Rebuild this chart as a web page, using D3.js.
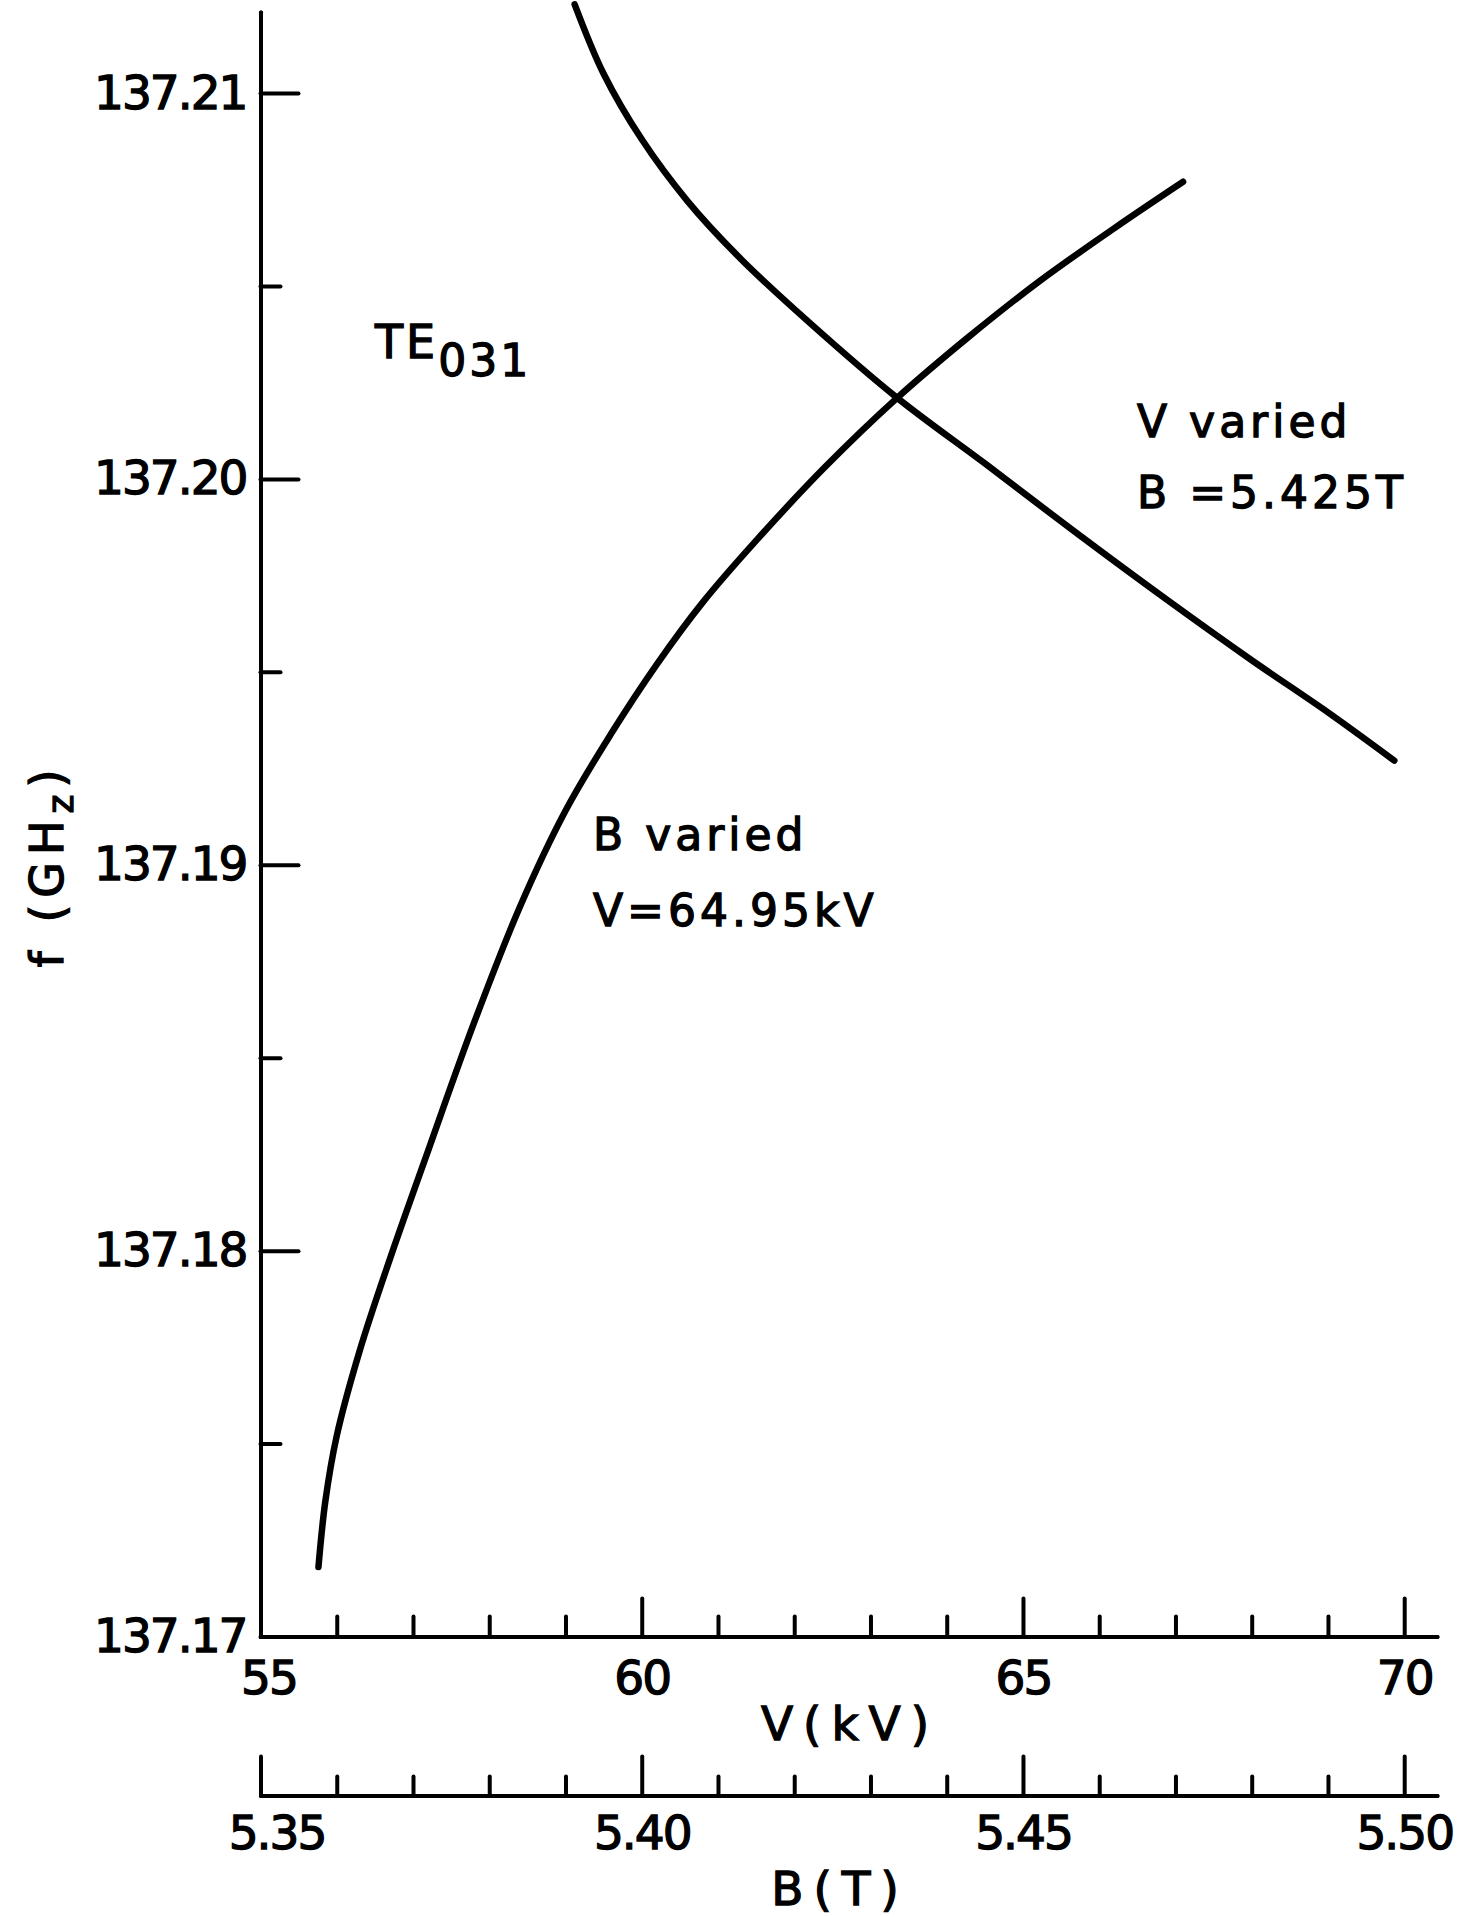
<!DOCTYPE html>
<html>
<head>
<meta charset="utf-8">
<script src="https://cdn.jsdelivr.net/npm/d3@7"></script>
<style>
  body { margin: 0; background: #fff; }
  text { font-family: "DejaVu Sans", sans-serif; fill: #000; stroke: #000; stroke-width: 1.3px; }
</style>
</head>
<body>
<div id="chart"></div>
<script>
// axis ticks
var fTicks = [137.17, 137.18, 137.19, 137.20, 137.21];
var fMinor = [137.175, 137.185, 137.195, 137.205];
var vTicks = [55, 60, 65, 70];
var vMinor = [56, 57, 58, 59, 61, 62, 63, 64, 66, 67, 68, 69];
var bTicks = [5.35, 5.40, 5.45, 5.50];
var bMinor = [5.36, 5.37, 5.38, 5.39, 5.41, 5.42, 5.43, 5.44, 5.46, 5.47, 5.48, 5.49];

// B varied, V = 64.95 kV  (B in T, f in GHz)
var bVariedB = [5.3576, 5.3585, 5.3600, 5.3630, 5.3670, 5.3720, 5.3780, 5.3840, 5.3900, 5.3960,
                5.4020, 5.4080, 5.4150, 5.4240, 5.4335, 5.4430, 5.4520, 5.4620, 5.4710];
var bVariedF = [137.1718, 137.1735, 137.1752, 137.1774, 137.1798, 137.1826, 137.1859, 137.1889, 137.1914, 137.1934,
                137.1952, 137.1968, 137.1984, 137.2003, 137.2021, 137.2037, 137.2051, 137.2065, 137.2077];

// V varied, B = 5.425 T  (V in kV, f in GHz)
var vVariedV = [59.12, 59.50, 60.00, 60.60, 61.30, 62.20, 63.35, 64.50, 65.70, 66.90, 68.00, 69.00, 69.87];
var vVariedF = [137.2123, 137.2105, 137.2088, 137.2072, 137.2057, 137.20405, 137.2021, 137.2004, 137.1986,
                137.19685, 137.1953, 137.19395, 137.1927];

var W = 1475, H = 1917;
var svg = d3.select("#chart").append("svg").attr("width", W).attr("height", H);
svg.append("rect").attr("width", W).attr("height", H).attr("fill", "#fff");

var x = d3.scaleLinear().domain([55, 70.43]).range([260.5, 1437]);
var xB = d3.scaleLinear().domain([5.35, 5.5043]).range([260.5, 1437]);
var y = d3.scaleLinear().domain([137.17, 137.2121]).range([1636.5, 12]);

function styleAxis(g){
	g.selectAll(".domain, line")
		.attr("stroke", "#000")
		.attr("stroke-width", 4)
		.attr("stroke-linecap", "round");
	g.selectAll("text")
		.attr("fill", "#000")
		.style("font-family", "'DejaVu Sans', sans-serif")
		.style("font-size", "47px")
		.style("letter-spacing", "-2px");
}

// Y AXIS
var gyMinor = svg.append("g").attr("transform", "translate(260.5,0)")
	.call(d3.axisLeft(y).tickValues(fMinor).tickSizeInner(-20).tickSizeOuter(0).tickFormat(""));
styleAxis(gyMinor);
var gy = svg.append("g").attr("transform", "translate(260.5,0)")
	.call(d3.axisLeft(y).tickValues(fTicks).tickSizeInner(-38).tickSizeOuter(0).tickPadding(14)
		.tickFormat(d3.format(".2f")));
styleAxis(gy);

// V AXIS
var gvMinor = svg.append("g").attr("transform", "translate(0,1636.5)")
	.call(d3.axisBottom(x).tickValues(vMinor).tickSizeInner(-20).tickSizeOuter(0).tickFormat(""));
styleAxis(gvMinor);
var gv = svg.append("g").attr("transform", "translate(0,1636.5)")
	.call(d3.axisBottom(x).tickValues(vTicks).tickSizeInner(-38).tickSizeOuter(0).tickPadding(24)
		.tickFormat(d3.format("d")));
styleAxis(gv);

// B AXIS
var gbMinor = svg.append("g").attr("transform", "translate(0,1795.5)")
	.call(d3.axisBottom(xB).tickValues(bMinor).tickSizeInner(-19).tickSizeOuter(0).tickFormat(""));
styleAxis(gbMinor);
var gb = svg.append("g").attr("transform", "translate(0,1795.5)")
	.call(d3.axisBottom(xB).tickValues(bTicks).tickSizeInner(-39).tickSizeOuter(0).tickPadding(20)
		.tickFormat(d3.format(".2f")));
styleAxis(gb);
// the first labels sit a bit right of their ticks in the original
gb.selectAll(".tick text").attr("dx", function(d){ return d == 5.35 ? 16 : 0; });
gv.selectAll(".tick text").attr("dx", function(d){ return d == 55 ? 8 : 0; });

// axis titles
svg.append("text")
	.attr("x", 850).attr("y", 1740)
	.attr("text-anchor", "middle")
	.style("font-size", "47px").style("letter-spacing", "10px")
	.text("V(kV)");
svg.append("text")
	.attr("x", 840).attr("y", 1905)
	.attr("text-anchor", "middle")
	.style("font-size", "47px").style("letter-spacing", "10px")
	.text("B(T)");

var yl = svg.append("text")
	.attr("transform", "translate(63,865) rotate(-90)")
	.attr("text-anchor", "middle")
	.style("font-size", "46px").style("letter-spacing", "7px");
yl.append("tspan").text("f (GH");
yl.append("tspan").attr("dy", 10).style("font-size", "36px").text("z");
yl.append("tspan").attr("dy", -10).text(")");

// curves
var lineB = d3.line()
	.x(function(d, i){ return xB(bVariedB[i]); })
	.y(function(d, i){ return y(bVariedF[i]); })
	.curve(d3.curveCatmullRom.alpha(0.5));
var lineV = d3.line()
	.x(function(d, i){ return x(vVariedV[i]); })
	.y(function(d, i){ return y(vVariedF[i]); })
	.curve(d3.curveCatmullRom.alpha(0.5));

svg.append("path")
	.attr("d", lineB(bVariedB))
	.attr("fill", "none").attr("stroke", "#000")
	.attr("stroke-width", 6.5).attr("stroke-linecap", "round");
svg.append("path")
	.attr("d", lineV(vVariedV))
	.attr("fill", "none").attr("stroke", "#000")
	.attr("stroke-width", 6.5).attr("stroke-linecap", "round");

// annotations
var te = svg.append("text").attr("x", 375).attr("y", 358)
	.style("font-size", "46px").style("letter-spacing", "3px");
te.append("tspan").text("TE");
te.append("tspan").attr("dy", 18).style("font-size", "44px").text("031");

function label(tx, ty, s){
	svg.append("text").attr("x", tx).attr("y", ty)
		.style("font-size", "44px").style("letter-spacing", "4px")
		.text(s);
}
label(1137, 437, "V varied");
label(1137, 508, "B =5.425T");
label(593, 850, "B varied");
label(593, 926, "V=64.95kV");
</script>
</body>
</html>
